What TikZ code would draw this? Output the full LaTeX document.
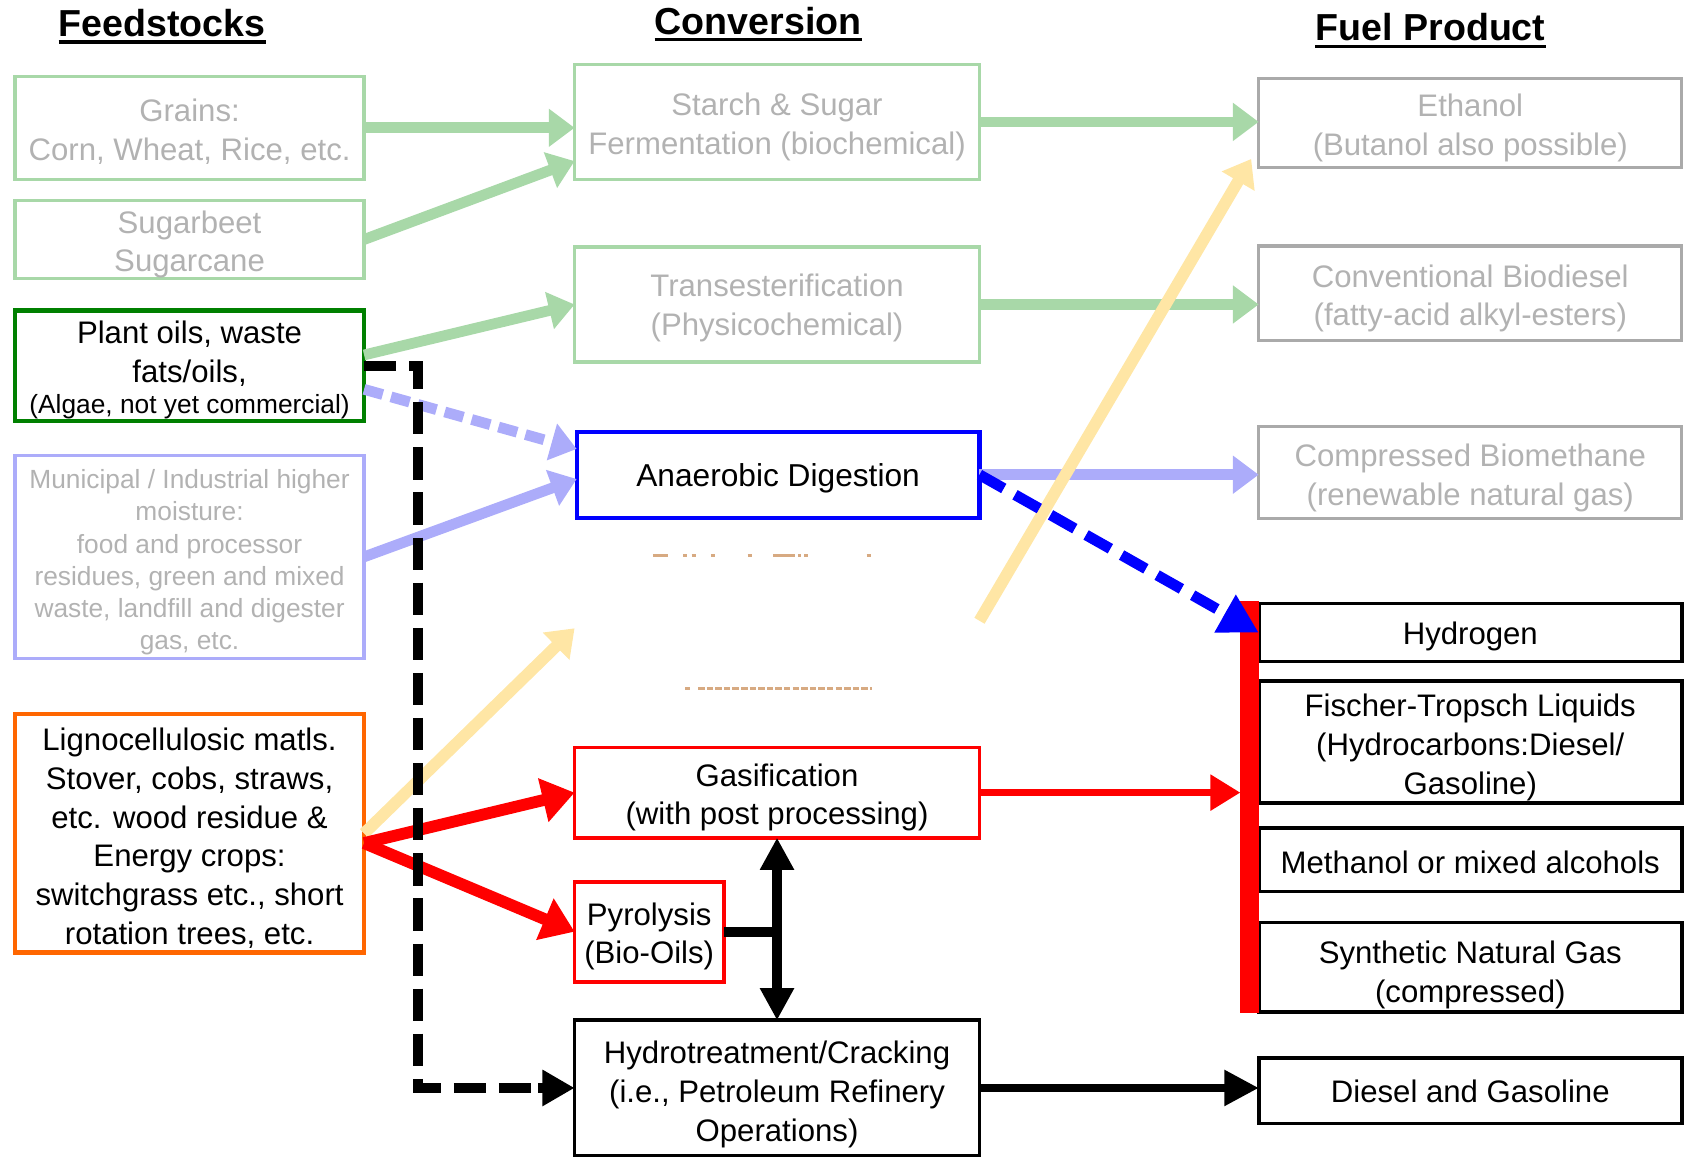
\documentclass[tikz,border=0pt]{standalone}
\usepackage{fontspec}
\setmainfont{Liberation Sans}
\usetikzlibrary{arrows.meta,calc}
\definecolor{fgreen}{RGB}{168,216,168}
\definecolor{fblue}{RGB}{172,172,250}
\definecolor{fyellow}{RGB}{255,230,165}
\definecolor{ftext}{RGB}{178,178,178}
\definecolor{fgrayb}{RGB}{170,170,170}
\definecolor{ftan}{RGB}{215,170,130}
\definecolor{myorange}{RGB}{255,102,0}
\definecolor{mygreen}{RGB}{0,128,0}
\newcommand{\st}[1][30pt]{\rule{0pt}{#1}}
\begin{document}
\begin{tikzpicture}[x=1pt,y=-1pt,
  box/.style={rectangle, inner sep=0pt, outer sep=0pt, align=center, font=\fontsize{29}{36}\selectfont},
  fbox/.style={box, draw=fgreen, line width=3pt, text=ftext},
  pbox/.style={box, draw=black, line width=3.5pt, minimum width=394pt},
  head/.style={anchor=base, inner sep=0pt, font=\fontsize{35}{42}\selectfont\bfseries},
  fat/.style={line width=10pt, -{Triangle[length=24pt,width=34pt]}},
  redarr/.style={red, line width=11pt, -{Triangle[length=30pt,width=40pt]}}
]
\useasboundingbox (0,0) rectangle (1568,1077);

% headings
\node[head] (hf) at (151,34) {Feedstocks};
\node[head] (hc) at (706,32) {Conversion};
\node[head] (hp) at (1332,38) {Fuel Product};
\foreach \h in {hf,hc,hp}{
  \draw[line width=3pt] ([yshift=-5pt]\h.base west) -- ([yshift=-5pt]\h.base east);
}

% feedstocks
\node[fbox, minimum width=325pt, minimum height=96pt] (grains) at (176.5,119) {\st[28pt]Grains:\\Corn, Wheat, Rice, etc.};
\node[fbox, minimum width=325pt, minimum height=72pt] (sugar) at (176.5,223) {\st Sugarbeet\\Sugarcane};
\node[box, draw=mygreen, line width=4pt, minimum width=325pt, minimum height=103pt] (plant) at (176.5,340.5)
  {\st[29pt]Plant oils, waste\\fats/oils,\\[-7pt]\fontsize{24.5}{30}\selectfont (Algae, not yet commercial)};
\node[fbox, draw=fblue, minimum width=325pt, minimum height=189pt, font=\fontsize{24.5}{30}\selectfont] (muni) at (176.5,518.5)
  {\st[28pt]Municipal / Industrial higher\\moisture:\\food and processor\\residues, green and mixed\\waste, landfill and digester\\gas, etc.};
\node[box, draw=myorange, line width=4pt, minimum width=325pt, minimum height=222pt] (ligno) at (176.5,776)
  {\st Lignocellulosic matls.\\Stover, cobs, straws,\\etc. wood residue \&\\Energy crops:\\switchgrass etc., short\\rotation trees, etc.};

% conversion
\node[fbox, minimum width=377pt, minimum height=107pt] (starch) at (723.5,113.5) {\st[31pt]Starch \& Sugar\\Fermentation (biochemical)};
\node[fbox, minimum width=377pt, minimum height=107pt] (trans) at (723.5,283.5) {\st[28pt]Transesterification\\(Physicochemical)};
\node[box, draw=blue, line width=4pt, minimum width=375pt, minimum height=80pt, font=\fontsize{29.5}{36}\selectfont] (ad) at (724.5,442) {\st[29pt]Anaerobic Digestion};
\node[box, draw=red, line width=3.5pt, minimum width=377pt, minimum height=84pt] (gasif) at (723.5,738) {\st Gasification\\(with post processing)};
\node[box, draw=red, line width=3.5pt, minimum width=139pt, minimum height=93pt] (pyro) at (604.5,867.5) {\st Pyrolysis\\(Bio-Oils)};
\node[box, draw=black, line width=3.5pt, minimum width=377pt, minimum height=126pt] (hydro) at (723.5,1013)
  {\st[33pt]Hydrotreatment/Cracking\\(i.e., Petroleum Refinery\\Operations)};

% faint leftover marks
\draw[ftan, line width=3pt, dash pattern=on 14pt off 14pt on 4pt off 4pt on 4pt off 14pt on 4pt off 30pt on 4pt off 20pt on 20pt off 3pt on 3pt off 3pt on 3pt off 55pt on 4pt off 40pt] (608,517) -- (840,517);
\draw[ftan, line width=3pt] (638,641) -- (642,641);
\draw[ftan, line width=3pt, dash pattern=on 6pt off 2pt] (650,641) -- (812,641);

% fuel products
\node[fbox, draw=fgrayb, minimum width=394pt, minimum height=83pt] (eth) at (1369,114.5) {\st Ethanol\\(Butanol also possible)};
\node[fbox, draw=fgrayb, minimum width=394pt, minimum height=88pt] (biod) at (1369,273) {\st[31pt]Conventional Biodiesel\\(fatty-acid alkyl-esters)};
\node[fbox, draw=fgrayb, minimum width=394pt, minimum height=86pt] (biom) at (1369,440) {\st[31pt]Compressed Biomethane\\(renewable natural gas)};
\node[pbox, minimum height=54pt] (h2) at (1369,589) {\st[29pt]Hydrogen};
\node[pbox, minimum height=114pt] (ft) at (1369,691) {\st[31pt]Fischer-Tropsch Liquids\\(Hydrocarbons:Diesel/\\Gasoline)};
\node[pbox, minimum height=59pt] (meoh) at (1369,800.5) {\st[25pt]Methanol or mixed alcohols};
\node[pbox, minimum height=83pt] (sng) at (1369,900.5) {\st[35pt]Synthetic Natural Gas\\(compressed)};
\node[pbox, minimum height=61pt] (dsl) at (1369,1015.5) {\st[23pt]Diesel and Gasoline};
\node[fill=red, inner sep=0pt, outer sep=0pt, minimum width=17pt, minimum height=383pt] (bar) at (1163.5,751.5) {};

% faint arrows
\draw[fat, fgreen] (grains.east) -- (grains.east -| starch.west);
\draw[fat, fgreen] (sugar.east) -- ([yshift=-36.5pt]starch.west);
\draw[fat, fgreen] ([yshift=10pt]plant.east) -- (trans.west);
\draw[fat, fgreen] (starch.east) -- (starch.east -| eth.west);
\draw[fat, fgreen] (trans.east) -- (trans.east -| biod.west);
\draw[fat, fblue, dash pattern=on 18pt off 8pt] ([yshift=-22pt]plant.east) -- ([yshift=24pt]ad.west);
\draw[fat, fblue] (muni.east) -- ([yshift=-4pt]ad.west);
\draw[fat, fblue] (ad.east) -- (ad.east -| biom.west);
\coordinate (ya) at (535,585);
\coordinate (yb) at (912,578);
\coordinate (yt) at (1165,148);
\draw[fat, fyellow, line width=11pt] (ligno.east) -- (ya);
\draw[fat, fyellow, line width=11pt] (yb) -- (yt);

% main arrows
\draw[line width=10pt, blue, dash pattern=on 26pt off 12pt] (ad.east) -- ($(ad.east)!0.9!(h2.west)$);
\draw[line width=10pt, blue, -{Triangle[length=36pt,width=38pt]}] ($(ad.east)!0.88!(h2.west)$) -- (h2.west);
\draw[redarr] ([yshift=-9pt]ligno.east) -- (gasif.west);
\draw[redarr] ([yshift=-9pt]ligno.east) -- (pyro.west);
\draw[red, line width=7pt, -{Triangle[length=28pt,width=32pt]}] (gasif.east) -- (gasif.east -| bar.west);
\draw[line width=9pt] (pyro.east) -- (pyro.east -| gasif.south);
\draw[line width=9pt, {Triangle[length=30pt,width=30pt]}-{Triangle[length=30pt,width=30pt]}] (gasif.south) -- (hydro.north);
\draw[line width=7pt, -{Triangle[length=32pt,width=32pt]}] (hydro.east) -- (hydro.east -| dsl.west);
\coordinate (dc) at (389,1013);
\draw[line width=9pt, dash pattern=on 30pt off 12pt] (plant.east) -| (dc) -- ([xshift=-40pt]hydro.west);
\draw[line width=9pt, -{Triangle[length=30pt,width=32pt]}] ([xshift=-34pt]hydro.west) -- (hydro.west);
\end{tikzpicture}
\end{document}
